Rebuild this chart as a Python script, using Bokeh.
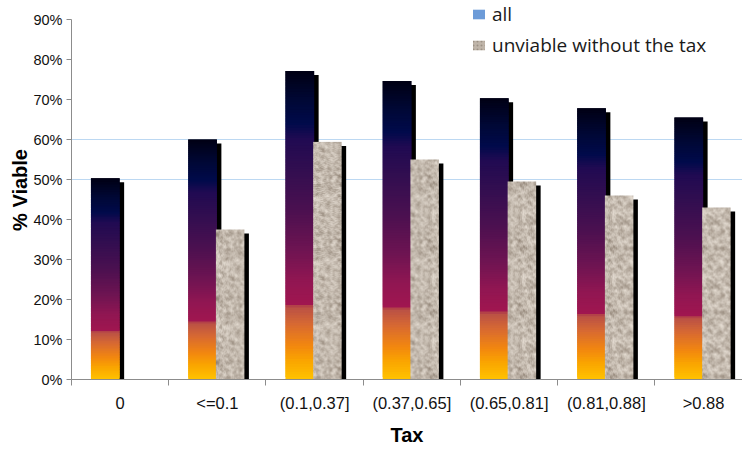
import numpy as np
from bokeh.embed import file_html
from bokeh.models import (ColumnDataSource, FixedTicker, Legend, LegendItem,
                          LinearAxis, NumeralTickFormatter, Range1d,
                          SingleIntervalTicker)
from bokeh.plotting import figure
from bokeh.resources import INLINE

# ---- data -------------------------------------------------------------
categories = ["0", "<=0.1", "(0.1,0.37]", "(0.37,0.65]", "(0.65,0.81]",
              "(0.81,0.88]", ">0.88"]
viable_all = [0.503, 0.600, 0.771, 0.746, 0.703, 0.678, 0.655]
# no firm in the first bin was unviable without the tax
viable_unviable_without_tax = [None, 0.375, 0.594, 0.550, 0.495, 0.460, 0.430]
series_labels = ["all", "unviable without the tax"]
x_title = "Tax"
y_title = "% Viable"
y_max = 0.9

# ---- geometry / style ---------------------------------------------------
PX_PER_CAT = 97.25          # frame pixels per category
PX_PER_UNIT_Y = 400.0       # frame pixels per 1.0 (100%)
FRAME_H = 379               # frame height in pixels (top of canvas to x axis)
ALL_LEFT, ALL_RIGHT = 0.200, 0.495
GR_LEFT, GR_RIGHT = 0.485, 0.778
SHADOW_DX = 4.5 / PX_PER_CAT
SHADOW_DY = 4.0 / PX_PER_UNIT_Y
N_BANDS = 120

# "late sunset" style gradient, bottom (0) to top (1) of every bar
SUNSET_STOPS = [
    (0.000, (255, 195, 0)),
    (0.060, (250, 165, 0)),
    (0.110, (242, 135, 15)),
    (0.180, (215, 105, 50)),
    (0.235, (185, 80, 70)),
    (0.245, (160, 22, 80)),
    (0.320, (145, 22, 82)),
    (0.420, (110, 20, 82)),
    (0.550, (75, 16, 80)),
    (0.680, (50, 14, 80)),
    (0.780, (32, 10, 82)),
    (0.830, (0, 10, 75)),
    (0.900, (0, 8, 55)),
    (1.000, (0, 0, 20)),
]


def sunset(f):
    fs = [s[0] for s in SUNSET_STOPS]
    rgb = [np.interp(f, fs, [s[1][c] for s in SUNSET_STOPS]) for c in range(3)]
    return "#%02x%02x%02x" % tuple(int(round(v)) for v in rgb)


def granite_tile(size=64):
    # hashed speckle, smoothed into blotches, mapped to stone colours
    yy, xx = np.mgrid[0:size, 0:size].astype(np.uint64)
    h = (xx * np.uint64(374761393) + yy * np.uint64(668265263)) & np.uint64(0xFFFFFFFF)
    h = ((h ^ (h >> np.uint64(13))) * np.uint64(1274126177)) & np.uint64(0xFFFFFFFF)
    fine = (h & np.uint64(0xFFFF)).astype(float) / 65535.0
    blot = fine.copy()
    for _ in range(2):
        blot = sum(np.roll(np.roll(blot, dy, 0), dx, 1)
                   for dy in (-1, 0, 1) for dx in (-1, 0, 1)) / 9.0
    blot = (blot - blot.min()) / (blot.max() - blot.min())
    t = np.clip(0.7 * blot + 0.3 * fine, 0, 1)
    dark = np.array([132, 118, 104], float)
    light = np.array([232, 224, 214], float)
    return dark + (light - dark) * t[..., None] ** 0.7


GRANITE = granite_tile()
GRANITE_BASE = "#bfb5a9"


def granite_rgba(w_px, h_px, x_off):
    # RGBA block of granite for one bar, packed as uint32 for image_rgba
    reps_y = h_px // GRANITE.shape[0] + 1
    reps_x = (w_px + x_off) // GRANITE.shape[1] + 1
    tile = np.tile(GRANITE, (reps_y, reps_x, 1))[:h_px, x_off:x_off + w_px]
    rgba = np.empty((h_px, w_px, 4), dtype=np.uint8)
    rgba[..., :3] = np.clip(tile, 0, 255).astype(np.uint8)
    rgba[..., 3] = 255
    return rgba.view(np.uint32).reshape(h_px, w_px)


# ---- figure -------------------------------------------------------------
p = figure(width=742, height=450, output_backend="svg", toolbar_location=None,
           x_range=Range1d(0, 6.9), y_range=Range1d(0, FRAME_H / PX_PER_UNIT_Y),
           min_border_left=71, min_border_right=0, min_border_top=0,
           min_border_bottom=71, background_fill_color="white",
           border_fill_color="white")
p.outline_line_color = None
p.xgrid.visible = False

n = len(categories)
all_x = [i + (ALL_LEFT + ALL_RIGHT) / 2 for i in range(n)]
gr_idx = [i for i in range(n) if viable_unviable_without_tax[i] is not None]
gr_x = [i + (GR_LEFT + GR_RIGHT) / 2 for i in gr_idx]
gr_top = [viable_unviable_without_tax[i] for i in gr_idx]

# drop shadows (behind all bars)
p.vbar(x=[x + SHADOW_DX for x in all_x], top=[v - SHADOW_DY for v in viable_all],
       bottom=0, width=ALL_RIGHT - ALL_LEFT, fill_color="black", line_color=None)
p.vbar(x=[x + SHADOW_DX for x in gr_x], top=[v - SHADOW_DY for v in gr_top],
       bottom=0, width=GR_RIGHT - GR_LEFT, fill_color="black", line_color=None)

# "all" bars: gradient built from thin bands of each bar
bx, bb, bt, bc = [], [], [], []
for x, v in zip(all_x, viable_all):
    for k in range(N_BANDS):
        bx.append(x)
        bb.append(v * k / N_BANDS)
        bt.append(min(v, v * (k + 2) / N_BANDS))
        bc.append(sunset((k + 0.5) / N_BANDS))
p.vbar(x="x", bottom="bottom", top="top", width=ALL_RIGHT - ALL_LEFT,
       fill_color="color", line_color=None,
       source=ColumnDataSource(dict(x=bx, bottom=bb, top=bt, color=bc)))

# "unviable without the tax" bars: granite texture, one image per bar
gr_w = GR_RIGHT - GR_LEFT
w_px = int(round(gr_w * PX_PER_CAT))
images = [granite_rgba(w_px, max(1, int(round(v * PX_PER_UNIT_Y))), 7 * j)
          for j, v in enumerate(gr_top)]
p.image_rgba(image=images, x=[i + GR_LEFT for i in gr_idx], y=[0] * len(gr_idx),
             dw=[gr_w] * len(gr_idx), dh=gr_top)

# legend keys (drawn outside the visible range)
key_all = p.vbar(x=[-5], top=[0.1], width=0.3, fill_color="#6c9bd8",
                 line_color=None)
key_gr = p.vbar(x=[-5], top=[0.1], width=0.3, fill_color=GRANITE_BASE,
                line_color=None, hatch_pattern="dot", hatch_color="#83796d",
                hatch_alpha=0.6, hatch_scale=4, hatch_weight=1.5)
legend = Legend(items=[LegendItem(label=series_labels[0], renderers=[key_all]),
                       LegendItem(label=series_labels[1], renderers=[key_gr])],
                location=(400, 321), glyph_width=15, glyph_height=12,
                label_standoff=6, spacing=5, label_height=20, padding=0, margin=0,
                border_line_color=None, background_fill_alpha=0,
                label_text_font="Open Sans", label_text_font_size="19px",
                label_text_color="#1a1a1a")
p.add_layout(legend)

# ---- axes ---------------------------------------------------------------
AXIS_GREY = "#8c8c8c"
yax = p.yaxis[0]
yax.bounds = (0, y_max)
yax.ticker = SingleIntervalTicker(interval=0.1)
yax.formatter = NumeralTickFormatter(format="0%")
yax.axis_line_color = AXIS_GREY
yax.major_tick_line_color = AXIS_GREY
yax.major_tick_out = 5
yax.major_tick_in = 0
yax.minor_tick_line_color = None
yax.major_label_standoff = 4
yax.major_label_text_font = "Liberation Sans"
yax.major_label_text_font_size = "14.5px"
yax.major_label_text_color = "#111111"

xax = p.xaxis[0]
centres = [i + 0.5 for i in range(n)]
xax.ticker = FixedTicker(ticks=centres, minor_ticks=list(range(n)))
xax.major_label_overrides = {c: lab for c, lab in zip(centres, categories)}
xax.axis_line_color = AXIS_GREY
xax.major_tick_line_color = None
xax.major_tick_out = 0
xax.major_tick_in = 0
xax.minor_tick_line_color = AXIS_GREY
xax.minor_tick_out = 6
xax.minor_tick_in = 0
xax.major_label_standoff = 8
xax.major_label_text_font = "Liberation Sans"
xax.major_label_text_font_size = "16.5px"
xax.major_label_text_color = "#111111"

p.ygrid.grid_line_color = "#bcd8f2"
p.ygrid.grid_line_width = 1


def title_axis(label, bounds, standoff):
    # an axis that carries only a bold title, centred on its bounds
    ax = LinearAxis(ticker=FixedTicker(ticks=[]), bounds=bounds,
                    axis_line_color=None, major_tick_line_color=None,
                    minor_tick_line_color=None, axis_label=label,
                    axis_label_standoff=standoff,
                    axis_label_text_font="Liberation Sans",
                    axis_label_text_font_style="bold",
                    axis_label_text_font_size="20px",
                    axis_label_text_color="black")
    return ax


# y title centred ~206 px above the x axis, x title ~342 px right of the y axis
yc = 206 / PX_PER_UNIT_Y
xc = 342 / PX_PER_CAT
p.add_layout(title_axis(y_title, (yc - 0.1, yc + 0.1), 0), "left")
p.add_layout(title_axis(x_title, (xc - 0.5, xc + 0.5), 9), "below")

open("out.html", "w").write(file_html(p, INLINE))
